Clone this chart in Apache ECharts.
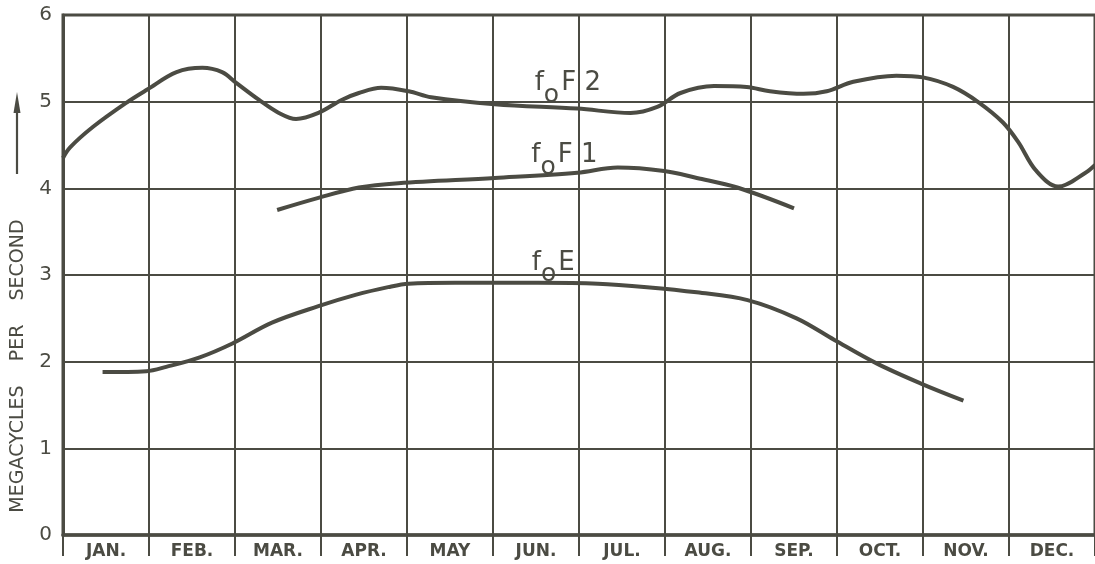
<!DOCTYPE html>
<html>
<head>
<meta charset="utf-8">
<script src="https://cdn.jsdelivr.net/npm/echarts@6/dist/echarts.min.js"></script>
<style>
html,body{margin:0;padding:0;background:#ffffff;}
#chart{width:1095px;height:564px;}
</style>
</head>
<body>
<div id="chart"></div>
<script>
// Month labels (one per column)
const months = ['JAN.', 'FEB.', 'MAR.', 'APR.', 'MAY', 'JUN.', 'JUL.', 'AUG.', 'SEP.', 'OCT.', 'NOV.', 'DEC.'];
// Y tick labels
const yTicks = [0, 1, 2, 3, 4, 5, 6];
// [month position (0 = start of Jan), megacycles per second]
const foF2 = [
  [0.00, 4.35], [0.08, 4.47], [0.35, 4.71], [0.74, 4.99], [0.98, 5.14], [1.32, 5.34],
  [1.62, 5.39], [1.85, 5.34], [2.01, 5.22], [2.28, 5.02], [2.51, 4.87], [2.71, 4.80],
  [2.97, 4.87], [3.24, 5.02], [3.44, 5.10], [3.70, 5.16], [4.02, 5.12],
  [4.28, 5.05], [5.02, 4.97], [5.98, 4.92], [6.60, 4.87], [6.91, 4.94], [7.18, 5.10],
  [7.57, 5.18], [7.95, 5.17], [8.22, 5.12], [8.61, 5.09], [8.88, 5.12], [9.19, 5.23],
  [9.69, 5.30], [10.00, 5.28], [10.35, 5.17], [10.65, 4.99], [10.93, 4.76], [11.11, 4.53],
  [11.31, 4.21], [11.57, 4.02], [11.89, 4.18], [12.00, 4.27]
];
const foF1 = [
  [2.49, 3.75], [2.97, 3.89], [3.44, 4.01], [3.90, 4.06], [5.02, 4.12], [5.98, 4.18],
  [6.45, 4.24], [6.99, 4.20], [7.37, 4.12], [7.84, 4.01], [8.50, 3.77]
];
const foE = [
  [0.46, 1.88], [0.97, 1.89], [1.20, 1.94], [1.59, 2.05], [1.97, 2.21], [2.43, 2.45],
  [2.97, 2.64], [3.40, 2.77], [3.78, 2.86], [4.02, 2.90], [4.56, 2.91], [5.52, 2.91],
  [6.22, 2.90], [6.79, 2.86], [7.37, 2.80], [7.96, 2.71], [8.53, 2.50], [8.97, 2.25],
  [9.46, 1.98], [9.97, 1.75], [10.47, 1.55]
];
// Curve label anchors [month position, value]
const labelF2 = [5.87, 5.21];
const labelF1 = [5.83, 4.38];
const labelE = [5.70, 3.14];

const ink = '#4b4b43';
const font = '"DejaVu Sans", sans-serif';

function curveLabel(coord, rest) {
  return {
    symbol: 'circle', symbolSize: 1,
    itemStyle: { color: 'rgba(0,0,0,0)' },
    silent: true,
    data: [{
      coord: coord,
      label: {
        show: true, position: 'inside',
        formatter: '{a|f}{b|o}{a|' + rest + '}',
        rich: {
          a: { fontSize: 26, fontFamily: font, color: ink, lineHeight: 30 },
          b: { fontSize: 25, fontFamily: font, color: ink, lineHeight: 30, padding: [24, 2, 0, 0] }
        }
      }
    }]
  };
}

const chart = echarts.init(document.getElementById('chart'), null, { renderer: 'canvas' });
chart.setOption({
  animation: false,
  backgroundColor: '#ffffff',
  grid: {
    left: 63, top: 15, width: 1036, height: 520,
    show: true, borderColor: ink, borderWidth: 3, backgroundColor: 'rgba(0,0,0,0)'
  },
  xAxis: [{
    type: 'value', min: 0, max: 12, interval: 1, position: 'bottom',
    axisLine: { show: true, onZero: false, lineStyle: { color: ink, width: 3.5 } },
    axisTick: { show: true, length: 21, lineStyle: { color: ink, width: 2 } },
    axisLabel: { show: false },
    splitLine: { show: true, lineStyle: { color: ink, width: 2 } }
  }, {
    type: 'category', data: months, boundaryGap: true, position: 'bottom', offset: 0,
    axisLine: { show: false }, axisTick: { show: false }, splitLine: { show: false },
    axisLabel: { show: true, margin: 8, color: ink, fontSize: 17, fontWeight: 'bold', fontFamily: font }
  }],
  yAxis: {
    type: 'value', min: 0, max: 6, interval: 1,
    axisLine: { show: true, lineStyle: { color: ink, width: 3 } },
    axisTick: { show: false },
    axisLabel: {
      show: true, margin: 11, color: ink, fontSize: 20, fontFamily: font,
      formatter: function (v) { return yTicks.indexOf(v) >= 0 ? String(v) : ''; }
    },
    splitLine: { show: true, lineStyle: { color: ink, width: 2 } }
  },
  graphic: [
    {
      type: 'text', x: 18, y: 366, rotation: Math.PI / 2,
      style: {
        text: 'MEGACYCLES    PER    SECOND', fill: ink,
        font: '19px "DejaVu Sans", sans-serif', textAlign: 'center', textVerticalAlign: 'middle'
      }
    },
    { type: 'line', shape: { x1: 17, y1: 174, x2: 17, y2: 104 }, style: { stroke: ink, lineWidth: 2.2 } },
    { type: 'polygon', shape: { points: [[17, 92], [13.5, 113], [20.5, 113]] }, style: { fill: ink } }
  ],
  series: [
    {
      name: 'foF2', type: 'line', data: foF2, smooth: 0.35, showSymbol: false,
      lineStyle: { color: ink, width: 4 }, xAxisIndex: 0,
      markPoint: curveLabel(labelF2, 'F 2')
    },
    {
      name: 'foF1', type: 'line', data: foF1, smooth: 0.35, showSymbol: false,
      lineStyle: { color: ink, width: 4 }, xAxisIndex: 0,
      markPoint: curveLabel(labelF1, 'F 1')
    },
    {
      name: 'foE', type: 'line', data: foE, smooth: 0.35, showSymbol: false,
      lineStyle: { color: ink, width: 4 }, xAxisIndex: 0,
      markPoint: curveLabel(labelE, 'E')
    }
  ]
});
</script>
</body>
</html>
